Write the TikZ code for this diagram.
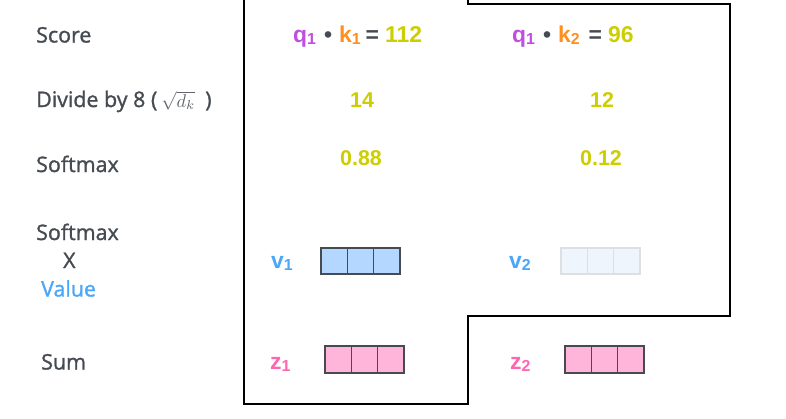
\documentclass[tikz,border=0pt]{standalone}
\usepackage{fontspec}
\setmainfont{Open Sans}[RawFeature={embolden=1.3}]
\newfontfamily\boldsans{Liberation Sans}[BoldFont={Liberation Sans Bold}]
\definecolor{txtgray}{HTML}{464B52}
\definecolor{qcol}{HTML}{C04EE0}
\definecolor{kcol}{HTML}{FF8F1F}
\definecolor{numcol}{HTML}{CDCD00}
\definecolor{vcol}{HTML}{4BA6F8}
\definecolor{vfill}{HTML}{B3D7FF}
\definecolor{vfaint}{HTML}{EEF5FD}
\definecolor{vfaintline}{HTML}{DDDFE3}
\definecolor{zcol}{HTML}{FF66B2}
\definecolor{zfill}{HTML}{FFB5D9}
\newcommand{\sbs}[1]{\raisebox{-2bp}{\fontsize{16}{16}\selectfont #1}}
\begin{document}
\begin{tikzpicture}[x=1bp,y=-1bp,
  rowlabel/.style={anchor=base west,inner sep=0pt,text=txtgray,font=\fontsize{21.5}{25}\selectfont},
  val/.style={anchor=base,inner sep=0pt,text=numcol,font=\boldsans\bfseries\fontsize{21.5}{25}\selectfont},
  eq/.style={anchor=base west,inner sep=0pt,font=\boldsans\bfseries\fontsize{23}{26}\selectfont},
  vlab/.style={anchor=base west,inner sep=0pt,text=vcol,font=\boldsans\bfseries\fontsize{23}{26}\selectfont},
  zlab/.style={anchor=base west,inner sep=0pt,text=zcol,font=\boldsans\bfseries\fontsize{23}{26}\selectfont},
  cellv/.style={draw=txtgray,fill=vfill,line width=1.2bp},
  cellf/.style={draw=vfaintline,fill=vfaint,line width=1.2bp},
  cellz/.style={draw=txtgray,fill=zfill,line width=1.2bp},
  outline/.style={draw=black,line width=1.4bp}]
\useasboundingbox (0,0) rectangle (786,418);
% outline
\draw[outline] (244,-5) -- (244,404) -- (468,404) -- (468,316) -- (730,316) -- (730,4) -- (468,4) -- (468,-5);
% left labels
\node[rowlabel] (lscore) at (36,42.5) {Score};
\node[rowlabel] (ldiv) at (36,107) {Divide by 8 (\hspace{4bp}{\color{txtgray!85}\scalebox{1.85}{\fontsize{10}{12}\selectfont$\sqrt{d_k}$}}\hspace{10bp})};
\node[rowlabel] (lsoft) at (36,172) {Softmax};
\node[rowlabel] (lsoft2) at (36,240) {Softmax};
\node[rowlabel] (lx) at (63,268) {X};
\node[rowlabel,text=vcol] (lval) at (41,296.5) {Value};
\node[rowlabel] (lsum) at (41,369.5) {Sum};
% column 1
\node[eq] (s1) at (293,42.3) {\textcolor{qcol}{q\sbs{1}}\hspace{8bp}\textcolor{txtgray}{•}\hspace{7bp}\textcolor{kcol}{k\sbs{1}}\hspace{5bp}\textcolor{txtgray}{=}\hspace{6bp}\textcolor{numcol}{112}};
\node[val] (d1) at (362,107) {14};
\node[val] (p1) at (361,165) {0.88};
\node[vlab] (v1) at (271,268) {v\sbs{1}};
\node[zlab] (z1) at (270,369) {z\sbs{1}};
% column 2
\node[eq] (s2) at (512,42.3) {\textcolor{qcol}{q\sbs{1}}\hspace{8bp}\textcolor{txtgray}{•}\hspace{7bp}\textcolor{kcol}{k\sbs{2}}\hspace{9bp}\textcolor{txtgray}{=}\hspace{6bp}\textcolor{numcol}{96}};
\node[val] (d2) at (602,107) {12};
\node[val] (p2) at (601,165) {0.12};
\node[vlab] (v2) at (509,268) {v\sbs{2}};
\node[zlab] (z2) at (510,369) {z\sbs{2}};
% vectors
\foreach \i in {0,1,2} {
  \path[cellv] (321+26.33*\i,248) rectangle ++(26.33,26);
  \path[cellf] (561+26.33*\i,248) rectangle ++(26.33,26);
  \path[cellz] (325+26.33*\i,346) rectangle ++(26.33,27);
  \path[cellz] (565+26.33*\i,346) rectangle ++(26.33,27);
}
\end{tikzpicture}
\end{document}
